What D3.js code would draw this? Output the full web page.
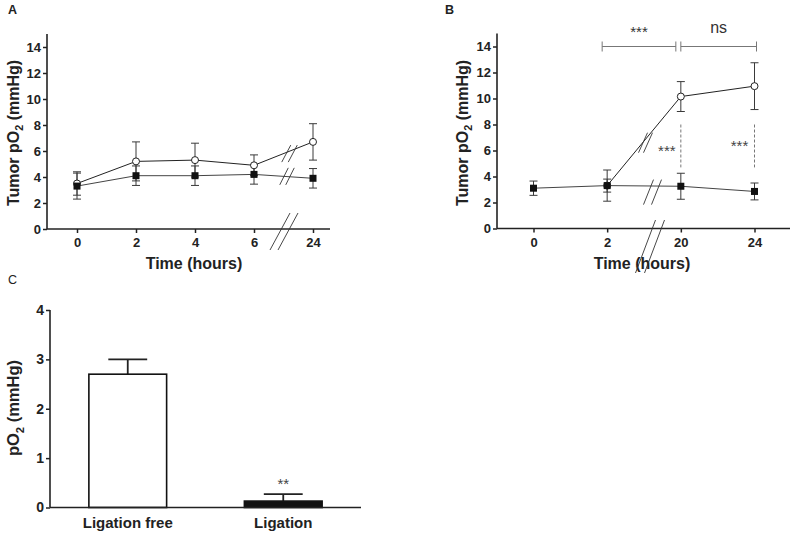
<!DOCTYPE html>
<html><head><meta charset="utf-8">
<script src="https://cdn.jsdelivr.net/npm/d3@7"></script>
<style>
body{margin:0;background:#fff;}
svg{display:block;font-family:"Liberation Sans",Arial,sans-serif;}
</style></head>
<body><svg id="c" width="795" height="534"></svg>
<script>
// ---- data ----
const yTicksTumor = [0,2,4,6,8,10,12,14];
const timesA = ["0","2","4","6","24"];
const openA = [3.5,5.2,5.3,4.9,6.7];
const openErrA = [0.9,1.5,1.3,0.8,1.4];
const filledA = [3.3,4.1,4.1,4.2,3.9];
const filledErrA = [1.0,0.75,0.75,0.75,0.75];

const timesB = ["0","2","20","24"];
const openB = [null,3.3,10.15,10.95];
const openErrB = [null,1.2,1.15,1.8];
const filledB = [3.1,3.3,3.25,2.85];
const filledErrB = [0.55,0.5,1.0,0.65];

const barCats = ["Ligation free","Ligation"];
const barVals = [2.7,0.13];
const barErr = [0.3,0.14];
const yTicksC = [0,1,2,3,4];

const svg = d3.select("#c");
const FF = "'Liberation Sans',Arial,sans-serif";
const dark = "#222", errC = "#3a3a3a", gray = "#777";

function styleTicks(sel, fs){
  sel.selectAll(".tick text").style("font-family",FF).style("font-weight","bold").style("font-size",fs+"px").style("fill","#222");
  sel.selectAll(".tick line").attr("stroke",dark).attr("stroke-width",1.5);
  sel.select(".domain").remove();
}
function yLabel(g, x, y, main, sub, rest, size){
  const t = g.append("text").attr("transform",`translate(${x},${y}) rotate(-90)`)
    .attr("text-anchor","middle").style("font-family",FF).style("font-weight","bold").style("font-size",size+"px").attr("fill","#222");
  t.append("tspan").text(main);
  t.append("tspan").style("font-size",(size*0.68)+"px").attr("dy",size*0.28).text(sub);
  t.append("tspan").attr("dy",-size*0.28).text(rest);
}
function slashPair(g, cx, cy, dx, dy, gap){
  [-gap/2, gap/2].forEach(o=>{
    g.append("line").attr("x1",cx+o-dx/2).attr("y1",cy+dy/2).attr("x2",cx+o+dx/2).attr("y2",cy-dy/2)
      .attr("stroke","#333").attr("stroke-width",0.9);
  });
}
function txt(g, x, y, s, fs, opts={}){
  return g.append("text").attr("x",x).attr("y",y).attr("text-anchor",opts.anchor||"middle")
    .style("font-family",FF).style("font-size",fs+"px").style("font-weight",opts.bold?"bold":"normal").attr("fill",opts.fill||"#222").text(s);
}

function linePanel(opt){
  const g = svg.append("g");
  const x = d3.scalePoint().domain(opt.times).range(opt.xr);
  const y = d3.scaleLinear().domain([0,15]).range([opt.y0, opt.y0-15*13]);
  const yg = g.append("g").attr("transform",`translate(${opt.ax},0)`)
    .call(d3.axisLeft(y).tickValues(yTicksTumor).tickSize(4).tickPadding(2));
  styleTicks(yg, 13);
  g.append("line").attr("x1",opt.ax).attr("x2",opt.ax).attr("y1",y(15)).attr("y2",y(0)).attr("stroke",dark).attr("stroke-width",1.6);
  const xg = g.append("g").attr("transform",`translate(0,${y(0)})`)
    .call(d3.axisBottom(x).tickSize(4).tickPadding(5));
  styleTicks(xg, 13);
  g.append("line").attr("x1",opt.ax).attr("x2",opt.axEnd).attr("y1",y(0)).attr("y2",y(0)).attr("stroke",dark).attr("stroke-width",1.6);
  yLabel(g, opt.ylx, opt.yly, "Tumor pO", "2", " (mmHg)", 16);
  txt(g, opt.tx, y(0)+40, "Time (hours)", 16, {bold:true});
  txt(g, opt.lx, 14, opt.letter, 12.5, {bold:true, anchor:"start"});

  const pts = (vals, errs) => opt.times.map((t,i)=>({t, v:vals[i], e:errs[i]})).filter(d=>d.v!=null);
  const oP = pts(opt.open, opt.openErr), fP = pts(opt.filled, opt.filledErr);
  const line = d3.line().x(d=>x(d.t)).y(d=>y(d.v));
  [oP,fP].forEach(P=>{
    P.forEach(d=>{
      g.append("line").attr("x1",x(d.t)).attr("x2",x(d.t)).attr("y1",y(d.v-d.e)).attr("y2",y(d.v+d.e)).attr("stroke",errC).attr("stroke-width",1);
      [d.v-d.e,d.v+d.e].forEach(v=>g.append("line").attr("x1",x(d.t)-4).attr("x2",x(d.t)+4).attr("y1",y(v)).attr("y2",y(v)).attr("stroke",errC).attr("stroke-width",1));
    });
  });
  g.append("path").datum(fP).attr("d",line).attr("fill","none").attr("stroke","#444").attr("stroke-width",1);
  g.append("path").datum(oP).attr("d",line).attr("fill","none").attr("stroke","#222").attr("stroke-width",1);
  g.selectAll(null).data(oP).enter().append("circle").attr("cx",d=>x(d.t)).attr("cy",d=>y(d.v)).attr("r",3.5).attr("fill","#fff").attr("stroke","#222").attr("stroke-width",1);
  g.selectAll(null).data(fP).enter().append("rect").attr("x",d=>x(d.t)-3.5).attr("y",d=>y(d.v)-3.5).attr("width",7).attr("height",7).attr("fill","#111");
  return {g,x,y};
}

// Panel A
const A = linePanel({times:timesA, xr:[77,313], ax:47, axEnd:330, y0:229, open:openA, openErr:openErrA, filled:filledA, filledErr:filledErrA,
  ylx:19, yly:133, tx:194, lx:8, letter:"A"});
{
  const mx = (A.x("6")+A.x("24"))/2;
  slashPair(A.g, mx+0.5, A.y(0)+2.5, 20, 37, 8);
  slashPair(A.g, mx+6, A.y(5.8), 9, 17, 6.5);
  slashPair(A.g, mx+3.5, A.y(4.05), 8.5, 17, 6);
}

// Panel B
const B = linePanel({times:timesB, xr:[533.5,754.5], ax:497, axEnd:790, y0:228.5, open:openB, openErr:openErrB, filled:filledB, filledErr:filledErrB,
  ylx:468, yly:133, tx:642, lx:445, letter:"B"});
{
  const mx = (B.x("2")+B.x("20"))/2;
  slashPair(B.g, mx+6, B.y(0)+18, 20, 53, 9);
  slashPair(B.g, mx+1.5, B.y(6.6), 9, 20, 5);
  slashPair(B.g, mx+8.5, B.y(2.8), 10, 25, 8);
  const by = B.y(14);
  const br = [[B.x("2")-5, B.x("20")-5, "***", 10, 15],[B.x("20"), B.x("24")+2, "ns", 14, 16]];
  br.forEach(([x1,x2,lab,dyT,fs])=>{
    B.g.append("line").attr("x1",x1).attr("x2",x2).attr("y1",by).attr("y2",by).attr("stroke",gray).attr("stroke-width",1);
    [x1,x2].forEach(xx=>B.g.append("line").attr("x1",xx).attr("x2",xx).attr("y1",by-5).attr("y2",by+5).attr("stroke",gray).attr("stroke-width",1));
    txt(B.g, (x1+x2)/2, by-dyT, lab, fs, {fill:"#333"});
  });
  ["20","24"].forEach(t=>{
    const xx = B.x(t);
    B.g.append("line").attr("x1",xx).attr("x2",xx).attr("y1",B.y(8.0)).attr("y2",B.y(4.7)).attr("stroke",gray).attr("stroke-width",1).attr("stroke-dasharray","3,2");
  });
  txt(B.g, B.x("20")-14, B.y(5.6), "***", 15, {fill:"#444"});
  txt(B.g, B.x("24")-15, B.y(5.95), "***", 15, {fill:"#444"});
}

// Panel C
{
  const g = svg.append("g");
  const x = d3.scaleBand().domain(barCats).range([50,361]).paddingInner(0.5).paddingOuter(0.25);
  const y = d3.scaleLinear().domain([0,4]).range([507.5,310]);
  const yg = g.append("g").attr("transform","translate(50,0)")
    .call(d3.axisLeft(y).tickValues(yTicksC).tickSize(4).tickPadding(2).tickFormat(d3.format("d")));
  styleTicks(yg, 14);
  g.append("line").attr("x1",50).attr("x2",50).attr("y1",y(4)).attr("y2",y(0)).attr("stroke",dark).attr("stroke-width",1.6);
  const bw = x.bandwidth();
  barCats.forEach((c,i)=>{
    const cx = x(c)+bw/2;
    g.append("line").attr("x1",cx).attr("x2",cx).attr("y1",y(barVals[i])).attr("y2",y(barVals[i]+barErr[i])).attr("stroke",dark).attr("stroke-width",1.8);
    g.append("line").attr("x1",cx-bw/4).attr("x2",cx+bw/4).attr("y1",y(barVals[i]+barErr[i])).attr("y2",y(barVals[i]+barErr[i])).attr("stroke",dark).attr("stroke-width",1.8);
    g.append("rect").attr("x",x(c)).attr("y",y(barVals[i])).attr("width",bw).attr("height",y(0)-y(barVals[i]))
      .attr("fill", i===0?"#fff":"#111").attr("stroke","#111").attr("stroke-width",1.6);
    txt(g, cx, 528, c, 15, {bold:true});
  });
  g.append("line").attr("x1",50).attr("x2",361).attr("y1",y(0)).attr("y2",y(0)).attr("stroke",dark).attr("stroke-width",1.6);
  txt(g, x("Ligation")+bw/2, y(barVals[1]+barErr[1])-5, "**", 15, {fill:"#444"});
  yLabel(g, 19, 408, "pO", "2", " (mmHg)", 16.5);
  txt(g, 8, 284, "C", 12.5, {anchor:"start"});
}
</script></body></html>
